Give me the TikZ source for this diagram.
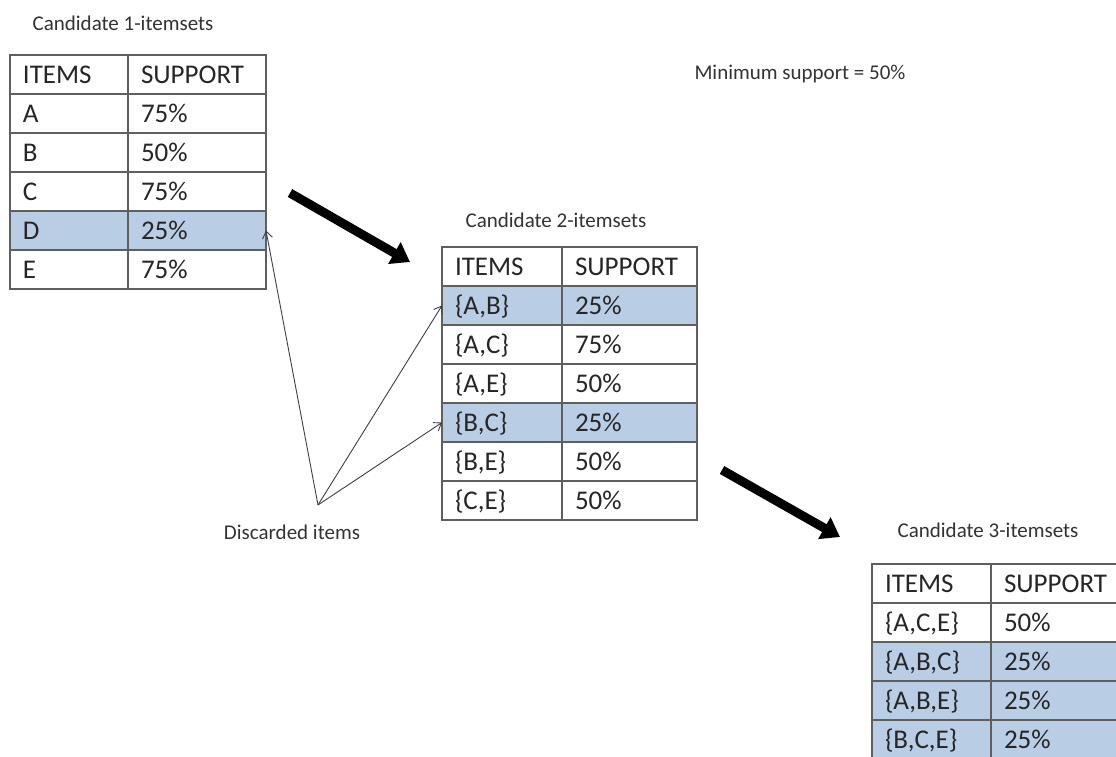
\documentclass[tikz,border=0pt]{standalone}
\usepackage{fontspec}
\setmainfont{Carlito}
\usepackage{tikz}
\usetikzlibrary{positioning, arrows.meta}
\definecolor{blueColor}{RGB}{185, 205, 229}
\definecolor{lineColor}{RGB}{95, 95, 95}

\begin{document}
\begin{tikzpicture}[
        x=1pt, y=-1pt,
        cell/.style={
            rectangle,
            draw=lineColor,
            line width=1.1pt,
            outer sep=0pt,
            inner xsep=13pt,
            inner ysep=0pt,
            text width=#1,
            align=left,
            minimum height=39pt,
            text height=22pt,
            text depth=4pt,
            text=black!85,
            font=\fontsize{27}{32}\selectfont
        },
        pruned/.style={
            cell=#1,
            fill=blueColor
        },
        title/.style={
            text=black!80,
            font=\fontsize{21}{25}\selectfont
        },
        bigarrow/.style={
            -{Triangle[length=18pt, width=24pt]},
            line width=9pt
        },
        thinarrow/.style={
            -{Straight Barb[length=7pt, width=10pt]},
            line width=0.9pt,
            draw=black!75
        }
    ]

        \fill[white] (0,0) rectangle (1116,757);
        \useasboundingbox (0,0) rectangle (1116,757);

        % Candidate 1-itemsets
        \node[title] (tit1) at (123,23) {Candidate 1-itemsets};
        \node[cell=92pt, anchor=north west] (t1h) at (10,55) {ITEMS};
        \node[cell=112pt, right=0pt of t1h] (t1hs) {SUPPORT};
        \node[cell=92pt, below=0pt of t1h] (t1a) {A};
        \node[cell=112pt, right=0pt of t1a] (t1as) {75\%};
        \node[cell=92pt, below=0pt of t1a] (t1b) {B};
        \node[cell=112pt, right=0pt of t1b] (t1bs) {50\%};
        \node[cell=92pt, below=0pt of t1b] (t1c) {C};
        \node[cell=112pt, right=0pt of t1c] (t1cs) {75\%};
        \node[pruned=92pt, below=0pt of t1c] (t1d) {D};
        \node[pruned=112pt, right=0pt of t1d] (t1ds) {25\%};
        \node[cell=92pt, below=0pt of t1d] (t1e) {E};
        \node[cell=112pt, right=0pt of t1e] (t1es) {75\%};

        % Candidate 2-itemsets
        \node[title] (tit2) at (556,220) {Candidate 2-itemsets};
        \node[cell=94pt, anchor=north west] (t2h) at (442,247) {ITEMS};
        \node[cell=109pt, right=0pt of t2h] (t2hs) {SUPPORT};
        \node[pruned=94pt, below=0pt of t2h] (t2ab) {\{A,B\}};
        \node[pruned=109pt, right=0pt of t2ab] (t2abs) {25\%};
        \node[cell=94pt, below=0pt of t2ab] (t2ac) {\{A,C\}};
        \node[cell=109pt, right=0pt of t2ac] (t2acs) {75\%};
        \node[cell=94pt, below=0pt of t2ac] (t2ae) {\{A,E\}};
        \node[cell=109pt, right=0pt of t2ae] (t2aes) {50\%};
        \node[pruned=94pt, below=0pt of t2ae] (t2bc) {\{B,C\}};
        \node[pruned=109pt, right=0pt of t2bc] (t2bcs) {25\%};
        \node[cell=94pt, below=0pt of t2bc] (t2be) {\{B,E\}};
        \node[cell=109pt, right=0pt of t2be] (t2bes) {50\%};
        \node[cell=94pt, below=0pt of t2be] (t2ce) {\{C,E\}};
        \node[cell=109pt, right=0pt of t2ce] (t2ces) {50\%};

        % Candidate 3-itemsets
        \node[title] (tit3) at (988,530) {Candidate 3-itemsets};
        \node[cell=93pt, anchor=north west] (t3h) at (872,564) {ITEMS};
        \node[cell=109pt, right=0pt of t3h] (t3hs) {SUPPORT};
        \node[cell=93pt, below=0pt of t3h] (t3ace) {\{A,C,E\}};
        \node[cell=109pt, right=0pt of t3ace] (t3aces) {50\%};
        \node[pruned=93pt, below=0pt of t3ace] (t3abc) {\{A,B,C\}};
        \node[pruned=109pt, right=0pt of t3abc] (t3abcs) {25\%};
        \node[pruned=93pt, below=0pt of t3abc] (t3abe) {\{A,B,E\}};
        \node[pruned=109pt, right=0pt of t3abe] (t3abes) {25\%};
        \node[pruned=93pt, below=0pt of t3abe] (t3bce) {\{B,C,E\}};
        \node[pruned=109pt, right=0pt of t3bce] (t3bces) {25\%};

        \node[title] (minsup) at (800,74) {Minimum support = 50\%};
        \node[title] (descarte) at (292,532) {Discarded items};

        % flechas gruesas entre tablas
        \coordinate (paso1a) at (290,193);
        \coordinate (paso1b) at (410,262);
        \coordinate (paso2a) at (722,470);
        \coordinate (paso2b) at (840,537);
        \draw[bigarrow] (paso1a) -- (paso1b);
        \draw[bigarrow] (paso2a) -- (paso2b);

        % items descartados
        \coordinate (disc) at (318,505);
        \draw[thinarrow] (disc) -- (t1ds.east);
        \draw[thinarrow] (disc) -- (t2ab.west);
        \draw[thinarrow] (disc) -- (t2bc.west);

    \end{tikzpicture}
\end{document}
